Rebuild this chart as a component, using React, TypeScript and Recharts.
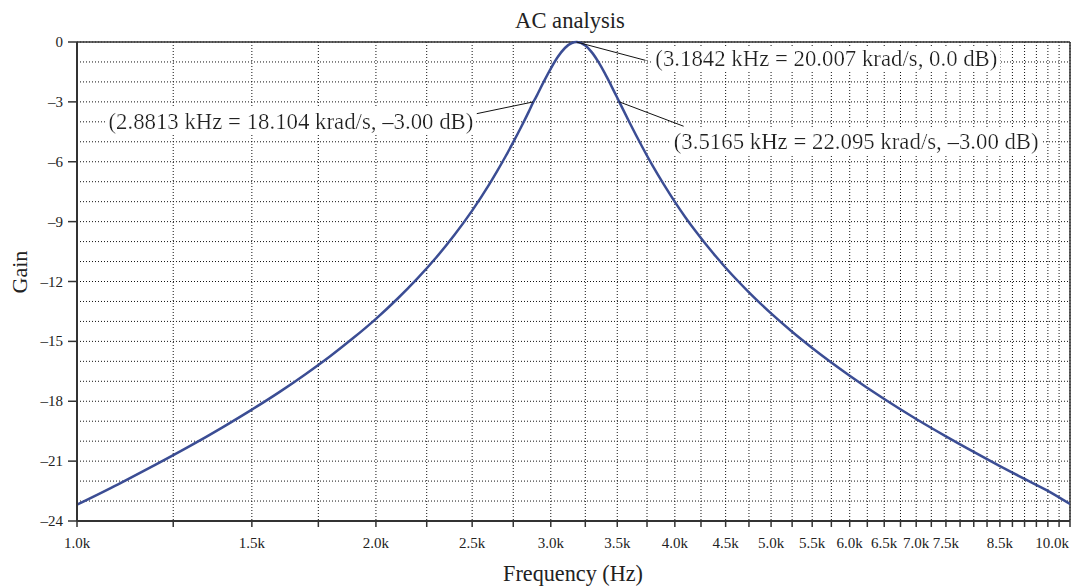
import React from "react";
import {
  LineChart,
  Line,
  XAxis,
  YAxis,
  CartesianGrid,
  ReferenceLine,
  ReferenceDot,
} from "recharts";

// frequency (Hz) and gain (dB)
const freqHz = [
  1000, 1100, 1200, 1300, 1400, 1500, 1600, 1700, 1800, 1900, 2000, 2100, 2200,
  2300, 2400, 2500, 2600, 2650, 2700, 2750, 2800, 2850, 2881.3, 2900, 2950,
  3000, 3050, 3100, 3150, 3184.2, 3250, 3300, 3350, 3400, 3450, 3516.5, 3600,
  3700, 3800, 3900, 4000, 4100, 4200, 4300, 4400, 4500, 4750, 5000, 5250, 5500,
  6000, 6500, 7000, 7500, 8000, 8500, 9000, 9500, 10000,
];
const gainDb = [
  -23.18, -22.16, -21.18, -20.24, -19.32, -18.42, -17.53, -16.63, -15.73,
  -14.81, -13.87, -12.89, -11.87, -10.8, -9.66, -8.45, -7.15, -6.46, -5.75,
  -5.02, -4.27, -3.5, -3.0, -2.75, -2.01, -1.33, -0.74, -0.3, -0.05, 0, -0.18,
  -0.52, -1.0, -1.56, -2.17, -3.0, -4.02, -5.16, -6.21, -7.15, -8.01, -8.79,
  -9.5, -10.15, -10.75, -11.31, -12.54, -13.6, -14.52, -15.33, -16.72, -17.89,
  -18.89, -19.76, -20.54, -21.25, -21.89, -22.49, -23.15,
];

const xTicks = [
  1000, 1250, 1500, 1750, 2000, 2250, 2500, 2750, 3000, 3250, 3500, 3750, 4000,
  4250, 4500, 4750, 5000, 5250, 5500, 5750, 6000, 6250, 6500, 6750, 7000, 7250,
  7500, 7750, 8000, 8250, 8500, 8750, 9000, 9250, 9500, 9750, 10000,
];
const xLabelTicks = [
  1000, 1500, 2000, 2500, 3000, 3500, 4000, 4500, 5000, 5500, 6000, 6500, 7000,
  7500, 8500, 10000,
];
const yTicks = [
  0, -1, -2, -3, -4, -5, -6, -7, -8, -9, -10, -11, -12, -13, -14, -15, -16, -17,
  -18, -19, -20, -21, -22, -23, -24,
];
const yLabelTicks = [0, -3, -6, -9, -12, -15, -18, -21, -24];

const markers = [
  {
    f: 2881.3,
    db: -3,
    text: "(2.8813 kHz = 18.104 krad/s, \u20133.00 dB)",
  },
  {
    f: 3184.2,
    db: 0,
    text: "(3.1842 kHz = 20.007 krad/s, 0.0 dB)",
  },
  {
    f: 3516.5,
    db: -3,
    text: "(3.5165 kHz = 22.095 krad/s, \u20133.00 dB)",
  },
];

// where the leader lines end and where the text sits (data coords)
const markerLayout = [
  { lf: 2527, ldb: -3.59, tf: 2507, tdb: -3.97, anchor: "end" },
  { lf: 3737, ldb: -0.92, tf: 3823, tdb: -0.85, anchor: "start" },
  { lf: 4082, ldb: -4.22, tf: 3990, tdb: -4.97, anchor: "start" },
];

const data = freqHz.map((f, i) => ({ f, gain: gainDb[i] }));

const FONT = "'Liberation Serif', 'Times New Roman', serif";
const INK = "#333";

const fmtDb = (v: number) => (v < 0 ? "\u2013" + Math.abs(v) : String(v));
const fmtHz = (v: number) => (v / 1000).toFixed(1) + "k";

const XTick = (props: any) => {
  const { x, y, payload } = props;
  const v = payload.value;
  if (!xLabelTicks.includes(v)) return <g />;
  const last = v === xTicks[xTicks.length - 1];
  return (
    <text
      x={last ? x - 1 : x}
      y={y}
      dy="0.71em"
      textAnchor={last ? "end" : "middle"}
      fontFamily={FONT}
      fontSize={15}
      fill="#222"
    >
      {fmtHz(v)}
    </text>
  );
};

const YTick = (props: any) => {
  const { x, y, payload } = props;
  const v = payload.value;
  if (!yLabelTicks.includes(v)) return <g />;
  return (
    <g>
      <line x1={x + 5} x2={x + 14} y1={y} y2={y} stroke={INK} strokeWidth={1.5} />
      <text
        x={x}
        y={y}
        dominantBaseline="central"
        textAnchor="end"
        fontFamily={FONT}
        fontSize={15}
        fill="#222"
      >
        {fmtDb(v)}
      </text>
    </g>
  );
};

export default function App() {
  return (
    <div style={{ position: "absolute", left: 0, top: 0, width: 1075, height: 586, background: "#fff" }}>
      <LineChart
        width={1075}
        height={586}
        data={data}
        margin={{ top: 42, right: 5, left: 0, bottom: 0 }}
      >
        <defs>
          <filter id="textbg" x="-0.005" y="0" width="1.01" height="1">
            <feFlood floodColor="#fff" />
            <feMerge>
              <feMergeNode />
              <feMergeNode in="SourceGraphic" />
            </feMerge>
          </filter>
        </defs>
        <CartesianGrid stroke="#111" strokeDasharray="1 2" strokeWidth={1} />
        <XAxis
          dataKey="f"
          type="number"
          scale="log"
          domain={[1000, 10000]}
          allowDataOverflow
          ticks={xTicks}
          interval={0}
          height={65}
          tickSize={6}
          tickMargin={10}
          tick={<XTick />}
          tickLine={{ stroke: INK, strokeWidth: 1.5 }}
          axisLine={{ stroke: INK, strokeWidth: 2 }}
        />
        <YAxis
          type="number"
          domain={[-24, 0]}
          ticks={yTicks}
          interval={0}
          width={77}
          tickSize={9}
          tickMargin={5}
          tick={<YTick />}
          tickLine={false}
          axisLine={{ stroke: INK, strokeWidth: 2 }}
        />
        <ReferenceLine y={0} stroke={INK} strokeWidth={1.5} />
        <ReferenceLine x={10000} stroke={INK} strokeWidth={1.5} />
        <Line
          type="monotone"
          dataKey="gain"
          stroke="#3b4d94"
          strokeWidth={2.5}
          dot={false}
          isAnimationActive={false}
        />
        {markers.map((m, i) => (
          <ReferenceLine
            key={"l" + i}
            segment={[
              { x: m.f, y: m.db },
              { x: markerLayout[i].lf, y: markerLayout[i].ldb },
            ]}
            stroke="#111"
            strokeWidth={1}
          />
        ))}
        {markers.map((m, i) => (
          <ReferenceDot
            key={"t" + i}
            x={markerLayout[i].tf}
            y={markerLayout[i].tdb}
            r={1}
            shape={(p: any) => (
              <text
                x={p.cx}
                y={p.cy}
                dominantBaseline="central"
                textAnchor={markerLayout[i].anchor}
                fontFamily={FONT}
                fontSize={22.8}
                fill="#222"
                filter="url(#textbg)"
              >
                {m.text}
              </text>
            )}
          />
        ))}
      </LineChart>
      <svg
        width={1075}
        height={586}
        style={{ position: "absolute", left: 0, top: 0, pointerEvents: "none" }}
      >
        <text x={570} y={28} textAnchor="middle" fontFamily={FONT} fontSize={22.6} fill="#222">
          AC analysis
        </text>
        <text x={573} y={581} textAnchor="middle" fontFamily={FONT} fontSize={22.2} fill="#222">
          Frequency (Hz)
        </text>
        <text
          x={27}
          y={272}
          textAnchor="middle"
          transform="rotate(-90 27 272)"
          fontFamily={FONT}
          fontSize={22}
          fill="#222"
        >
          Gain
        </text>
      </svg>
    </div>
  );
}
